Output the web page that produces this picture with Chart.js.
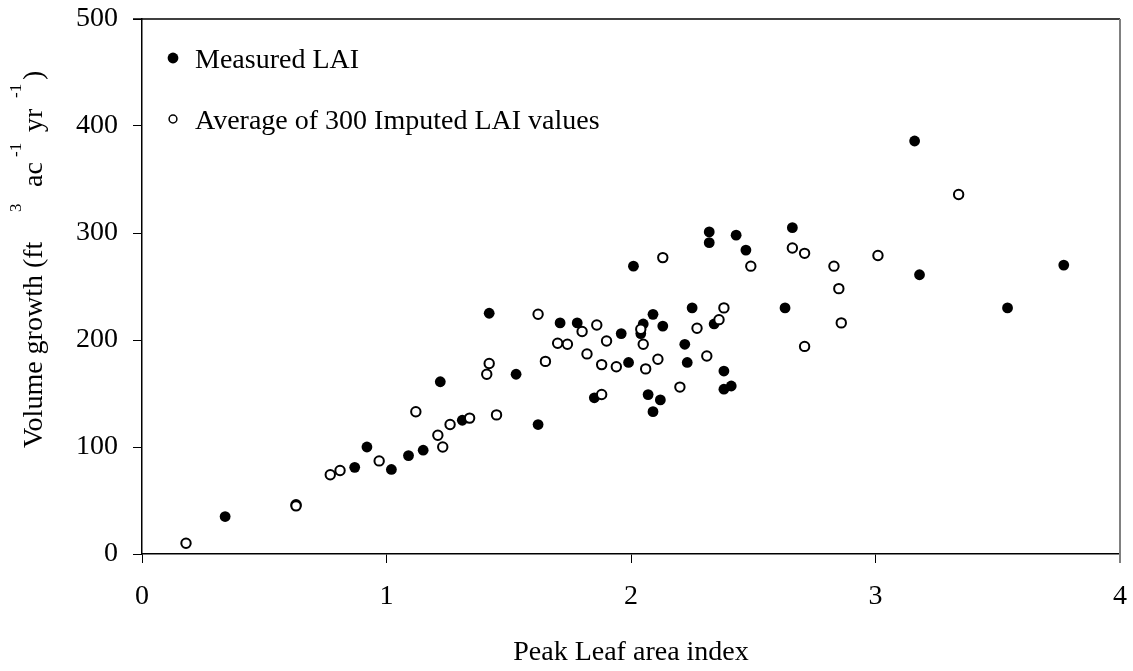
<!DOCTYPE html>
<html>
<head>
<meta charset="utf-8">
<title>Volume growth vs peak LAI</title>
<script src="https://cdn.jsdelivr.net/npm/chart.js@4.4.1/dist/chart.umd.min.js"></script>
<style>
  html, body { margin: 0; padding: 0; background: #fff; }
  #wrap { width: 1133px; height: 671px; }
</style>
</head>
<body>
<div id="wrap"><canvas id="lai" width="1133" height="671"></canvas></div>
<script>
// measured LAI plots
const measuredLai = [0.34, 0.87, 0.92, 1.02, 1.09, 1.15, 1.22, 1.31, 1.42, 1.53,
  1.62, 1.71, 1.78, 1.85, 1.96, 1.99, 2.01, 2.04, 2.05, 2.07,
  2.09, 2.09, 2.12, 2.13, 2.22, 2.23, 2.25, 2.32, 2.32, 2.34,
  2.38, 2.38, 2.41, 2.43, 2.47, 2.63, 2.66, 3.16, 3.18, 3.54, 3.77];
const measuredVolume = [35, 81, 100, 79, 92, 97, 161, 125, 225, 168,
  121, 216, 216, 146, 206, 179, 269, 206, 215, 149,
  224, 133, 144, 213, 196, 179, 230, 301, 291, 215,
  171, 154, 157, 298, 284, 230, 305, 386, 261, 230, 270];

// same plots, average of 300 imputed LAI values
const imputedLai = [0.18, 0.63, 0.63, 0.77, 0.81, 0.97, 1.12, 1.21, 1.23, 1.26,
  1.34, 1.41, 1.42, 1.45, 1.62, 1.65, 1.70, 1.74, 1.80, 1.82,
  1.86, 1.88, 1.88, 1.90, 1.94, 2.04, 2.05, 2.06, 2.11, 2.13,
  2.20, 2.27, 2.31, 2.36, 2.38, 2.49, 2.66, 2.71, 2.71, 2.83,
  2.85, 2.86, 3.01, 3.34];
const imputedVolume = [10, 46, 45, 74, 78, 87, 133, 111, 100, 121,
  127, 168, 178, 130, 224, 180, 197, 196, 208, 187,
  214, 177, 149, 199, 175, 210, 196, 173, 182, 277,
  156, 211, 185, 219, 230, 269, 286, 281, 194, 269,
  248, 216, 279, 336];

const xTicks = [0, 1, 2, 3, 4];
const yTicks = [0, 100, 200, 300, 400, 500];

const serif = 'Liberation Serif';

function toPoints(xs, ys) {
  return xs.map((x, i) => ({ x, y: ys[i] }));
}

// y title has superscripts, so it is drawn by hand (at = distance along the text)
const yTitlePlugin = {
  id: 'yTitle',
  afterDraw(chart) {
    const { ctx } = chart;
    const parts = [
      { t: 'Volume growth (ft', at: 0 },
      { t: '3', at: 236, sup: true },
      { t: 'ac', at: 261 },
      { t: '-1', at: 291, sup: true },
      { t: 'yr', at: 316 },
      { t: '-1', at: 350, sup: true },
      { t: ')', at: 368 }
    ];
    ctx.save();
    ctx.translate(42, 448);
    ctx.rotate(-Math.PI / 2);
    ctx.fillStyle = '#000';
    ctx.textBaseline = 'alphabetic';
    parts.forEach(p => {
      ctx.font = p.sup ? '17px "' + serif + '"' : '28px "' + serif + '"';
      ctx.fillText(p.t, p.at, p.sup ? -21 : 0);
    });
    ctx.restore();
  }
};

// plot frame: black top edge, grey right edge
const framePlugin = {
  id: 'frame',
  afterDraw(chart) {
    const { ctx, chartArea: a } = chart;
    ctx.save();
    ctx.strokeStyle = '#000';
    ctx.lineWidth = 1.5;
    ctx.beginPath();
    ctx.moveTo(a.left - 9, a.top);
    ctx.lineTo(a.right, a.top);
    ctx.stroke();
    ctx.strokeStyle = '#808080';
    ctx.lineWidth = 2;
    ctx.beginPath();
    ctx.moveTo(a.right, a.top);
    ctx.lineTo(a.right, a.bottom + 9);
    ctx.stroke();
    ctx.restore();
  }
};

// legend sits inside the plot, top left
const innerLegend = {
  id: 'innerLegend',
  afterDraw(chart) {
    const { ctx } = chart;
    const rows = [
      { ds: chart.data.datasets[0], y: 58, r: 5.4, lw: 0 },
      { ds: chart.data.datasets[1], y: 119, r: 3.9, lw: 1.5 }
    ];
    ctx.save();
    rows.forEach(row => {
      ctx.beginPath();
      ctx.arc(173, row.y, row.r, 0, Math.PI * 2);
      ctx.fillStyle = row.ds.backgroundColor;
      ctx.fill();
      if (row.lw) {
        ctx.lineWidth = row.lw;
        ctx.strokeStyle = row.ds.borderColor;
        ctx.stroke();
      }
      ctx.fillStyle = '#000';
      ctx.font = '28px "' + serif + '"';
      ctx.textBaseline = 'alphabetic';
      ctx.fillText(row.ds.label, 195, row.y + 10);
    });
    ctx.restore();
  }
};

new Chart(document.getElementById('lai'), {
  type: 'scatter',
  data: {
    datasets: [
      {
        label: 'Measured LAI',
        data: toPoints(measuredLai, measuredVolume),
        pointStyle: 'circle',
        pointRadius: 5.4,
        pointBorderWidth: 0,
        backgroundColor: '#000',
        borderColor: '#000',
        order: 2
      },
      {
        label: 'Average of 300 Imputed LAI values',
        data: toPoints(imputedLai, imputedVolume),
        pointStyle: 'circle',
        pointRadius: 4.7,
        pointBorderWidth: 2,
        backgroundColor: '#fff',
        borderColor: '#000',
        order: 1
      }
    ]
  },
  options: {
    responsive: false,
    animation: false,
    devicePixelRatio: 1,
    layout: {
      padding: { top: 19, right: 13, left: 0, bottom: 0 }
    },
    plugins: {
      legend: { display: false },
      tooltip: { enabled: false }
    },
    scales: {
      x: {
        type: 'linear',
        min: 0,
        max: 4,
        afterBuildTicks: (scale) => { scale.ticks = xTicks.map(v => ({ value: v })); },
        afterFit: (scale) => {
          scale.height = 117;
          scale.paddingLeft = 0;
          scale.paddingRight = 0;
        },
        ticks: {
          padding: 17,
          color: '#000',
          font: { family: serif, size: 28 }
        },
        grid: {
          display: true,
          drawOnChartArea: false,
          tickLength: 9,
          color: '#000',
          lineWidth: 1
        },
        border: { color: '#000', width: 1.5 },
        title: {
          display: true,
          text: 'Peak Leaf area index',
          color: '#000',
          font: { family: serif, size: 28 },
          padding: { top: 0, bottom: 2 }
        }
      },
      y: {
        min: 0,
        max: 500,
        afterBuildTicks: (scale) => { scale.ticks = yTicks.map(v => ({ value: v })); },
        afterFit: (scale) => {
          scale.width = 142;
          scale.paddingTop = 0;
          scale.paddingBottom = 0;
        },
        ticks: {
          padding: 15,
          color: '#000',
          font: { family: serif, size: 28 }
        },
        grid: {
          display: true,
          drawOnChartArea: false,
          tickLength: 9,
          color: '#000',
          lineWidth: 1
        },
        border: { color: '#000', width: 1.5 }
      }
    }
  },
  plugins: [framePlugin, innerLegend, yTitlePlugin]
});
</script>
</body>
</html>
